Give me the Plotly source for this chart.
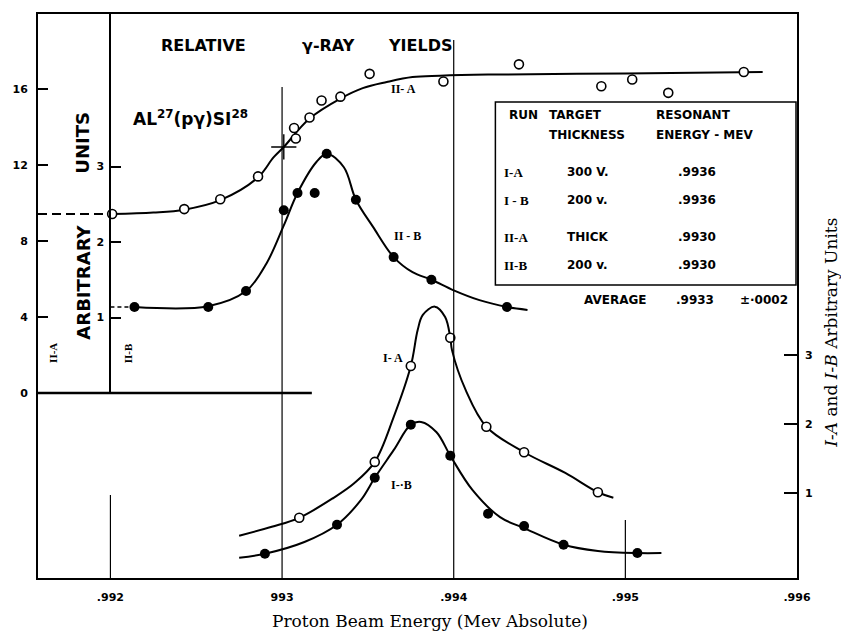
import plotly.graph_objects as go

# ---------------- data ----------------
# Run II-A (thick target), left axis 0..16
iia_curve_e = [.99201, .99225, .99243, .99264, .99286, .99295, .99301, .99316, .99334, .99347,
               .99361, .99376, .99392, .99420, .99500, .99580]
iia_curve_v = [9.42, 9.50, 9.65, 10.15, 11.35, 12.4, 12.95, 14.45, 15.5, 16.05,
               16.37, 16.63, 16.70, 16.76, 16.82, 16.90]
iia_pts_e = [.99201, .99243, .99264, .99286, .99308, .99307, .99316, .99323, .99334, .99351,
             .99394, .99438, .99486, .99504, .99525, .99569]
iia_pts_v = [9.42, 9.68, 10.2, 11.4, 13.4, 13.95, 14.5, 15.4, 15.6, 16.8,
             16.4, 17.3, 16.15, 16.5, 15.8, 16.9]
iia_mid_e = [.99301]
iia_mid_v = [12.95]
iia_base = 9.42

# Run II-B (200 V), inner axis 1..3
iib_curve_e = [.99214, .99257, .99279, .99291, .99301, .99309, .99320, .99326, .99336, .99343,
               .99353, .99365, .99376, .99387, .99400, .99415, .99431, .99443]
iib_curve_v = [1.14, 1.15, 1.35, 1.72, 2.22, 2.65, 3.06, 3.17, 2.99, 2.56,
               2.20, 1.80, 1.60, 1.50, 1.36, 1.23, 1.14, 1.10]
iib_pts_e = [.99214, .99257, .99279, .99301, .99309, .99319, .99326, .99343, .99365, .99387, .99431]
iib_pts_v = [1.14, 1.14, 1.35, 2.42, 2.65, 2.65, 3.17, 2.56, 1.80, 1.50, 1.14]
iib_base = 1.14

# Run I-A (300 V), right axis
ia_curve_e = [.99275, .99294, .99310, .99330, .99342, .99354, .99365, .99375, .99379, .99382,
              .99389, .99395, .99398, .99399, .99407, .99419, .99441, .99465, .99484, .99493]
ia_curve_v = [0.38, 0.51, 0.64, 0.93, 1.14, 1.45, 2.10, 2.84, 3.36, 3.58,
              3.70, 3.55, 3.25, 3.07, 2.49, 1.96, 1.59, 1.29, 1.01, 0.93]
ia_pts_e = [.99310, .99354, .99375, .99398, .99419, .99441, .99484]
ia_pts_v = [0.64, 1.45, 2.84, 3.25, 1.96, 1.59, 1.01]

# Run I-B (200 V), right axis
ib_curve_e = [.99275, .99290, .99313, .99332, .99346, .99354, .99365, .99375, .99381, .99390,
              .99398, .99411, .99427, .99441, .99464, .99484, .99507, .99521]
ib_curve_v = [0.06, 0.12, 0.29, 0.54, 0.90, 1.22, 1.62, 1.99, 2.03, 1.88,
              1.54, 1.04, 0.65, 0.49, 0.25, 0.16, 0.13, 0.13]
ib_pts_e = [.99290, .99332, .99354, .99375, .99398, .99420, .99441, .99464, .99507]
ib_pts_v = [0.12, 0.54, 1.22, 1.99, 1.54, 0.70, 0.52, 0.25, 0.13]

# axes
x_ticks = [.992, .993, .994, .995, .996]
x_ticktext = [".992", "993", ".994", ".995", ".996"]
iia_ticks = [0, 4, 8, 12, 16]
iib_ticks = [1, 2, 3]
i_ticks = [1, 2, 3]
x_grid_lines = [.992, .993, .994, .995]

# table text
table_head = [["RUN", "TARGET", "RESONANT"], ["", "THICKNESS", "ENERGY - MEV"]]
table_runs = ["I-A", "I - B", "II-A", "II-B"]
table_thick = ["300 V.", "200 v.", "THICK", "200 v."]
table_energy = [".9936", ".9936", ".9930", ".9930"]
table_avg = ["AVERAGE", ".9933", "±·0002"]

# ---------------- geometry helpers ----------------
W, H = 841, 632
L, R, T, B = 32, 797, 14, 578


def px(x):
    return (x - L) / (R - L)


def py(y):
    return (B - y) / (B - T)


X0, X1 = .991578, .996
BLACK = "black"
SANS = "DejaVu Sans"
SERIF = "Liberation Serif"
SERIF2 = "DejaVu Serif"

fig = go.Figure()

# II-A
fig.add_trace(go.Scatter(x=[X0, .992], y=[iia_base, iia_base], mode="lines",
                         line=dict(color=BLACK, width=2, dash="9px,5px"), yaxis="y"))
fig.add_trace(go.Scatter(x=iia_curve_e, y=iia_curve_v, mode="lines",
                         line=dict(color=BLACK, width=2, shape="spline", smoothing=1.0), yaxis="y"))
fig.add_trace(go.Scatter(x=iia_pts_e, y=iia_pts_v, mode="markers",
                         marker=dict(symbol="circle", size=9, color="white",
                                     line=dict(color=BLACK, width=1.6)), yaxis="y"))
fig.add_trace(go.Scatter(x=iia_mid_e, y=iia_mid_v, mode="markers",
                         marker=dict(symbol="cross-thin-open", size=18, color=BLACK,
                                     line=dict(color=BLACK, width=1.4)), yaxis="y"))

# II-B
fig.add_trace(go.Scatter(x=[.992, iib_pts_e[0]], y=[iib_base, iib_base], mode="lines",
                         line=dict(color=BLACK, width=1.6, dash="4px,3px"), yaxis="y3"))
fig.add_trace(go.Scatter(x=iib_curve_e, y=iib_curve_v, mode="lines",
                         line=dict(color=BLACK, width=2, shape="spline", smoothing=1.0), yaxis="y3"))
fig.add_trace(go.Scatter(x=iib_pts_e, y=iib_pts_v, mode="markers",
                         marker=dict(symbol="circle", size=10, color=BLACK), yaxis="y3"))

# I-A
fig.add_trace(go.Scatter(x=ia_curve_e, y=ia_curve_v, mode="lines",
                         line=dict(color=BLACK, width=2, shape="spline", smoothing=1.0), yaxis="y2"))
fig.add_trace(go.Scatter(x=ia_pts_e, y=ia_pts_v, mode="markers",
                         marker=dict(symbol="circle", size=9, color="white",
                                     line=dict(color=BLACK, width=1.6)), yaxis="y2"))
# I-B
fig.add_trace(go.Scatter(x=ib_curve_e, y=ib_curve_v, mode="lines",
                         line=dict(color=BLACK, width=2, shape="spline", smoothing=1.0), yaxis="y2"))
fig.add_trace(go.Scatter(x=ib_pts_e, y=ib_pts_v, mode="markers",
                         marker=dict(symbol="circle", size=10, color=BLACK), yaxis="y2"))

# ---------------- shapes ----------------
shapes = []
shapes.append(dict(type="line", xref="paper", yref="y", x0=0, x1=px(308), y0=0, y1=0,
                   line=dict(color=BLACK, width=2.5)))
vtops = {.992: 495, .993: 87, .994: 40, .995: 520}
for xv in x_grid_lines:
    shapes.append(dict(type="line", xref="x", yref="paper", x0=xv, x1=xv, y0=0, y1=py(vtops[xv]),
                       line=dict(color=BLACK, width=1.2)))
shapes.append(dict(type="rect", xref="paper", yref="paper", x0=px(493), x1=px(796),
                   y0=py(285), y1=py(102), line=dict(color=BLACK, width=1.5)))

# ---------------- annotations ----------------
ann = []


def text(x, y, s, size=12, family=SANS, weight="bold", anchor="center", angle=0):
    ann.append(dict(x=px(x), y=py(y), xref="paper", yref="paper", text=s, showarrow=False,
                    xanchor=anchor, yanchor="middle", textangle=angle,
                    font=dict(family=family, size=size, color=BLACK, weight=weight)))


text(199, 45, "RELATIVE", size=16)
text(325, 45, "γ-RAY", size=16)
text(417, 45, "YIELDS", size=16)
text(186, 118, "AL<sup>27</sup>(pγ)SI<sup>28</sup>", size=17)
text(400, 89, "II- A", size=12, family=SERIF)
text(404, 236, "II - B", size=12, family=SERIF)
text(390, 358, "I- A", size=12, family=SERIF)
text(398, 485, "I-·B", size=12, family=SERIF)
text(77, 282, "ARBITRARY", size=18, angle=-90)
text(77, 143, "UNITS", size=18, angle=-90)
text(47, 353, "II-A", size=11, family=SERIF, angle=-90)
text(123, 353, "II-B", size=11, family=SERIF, angle=-90)
# table
text(505, 115, table_head[0][0], size=12, anchor="left")
text(545, 115, table_head[0][1], size=12, anchor="left")
text(653, 115, table_head[0][2], size=12, anchor="left")
text(545, 135, table_head[1][1], size=12, anchor="left")
text(653, 135, table_head[1][2], size=12, anchor="left")
for yy, r, th, en in zip([172, 200, 237, 265], table_runs, table_thick, table_energy):
    text(500, yy, r, size=13, family=SERIF, anchor="left")
    text(563, yy, th, size=12, anchor="left")
    text(675, yy, en, size=12, anchor="left")
text(580, 300, table_avg[0], size=12, anchor="left")
text(673, 300, table_avg[1], size=12, anchor="left")
text(738, 300, table_avg[2], size=12, anchor="left")
# axis titles
text(427, 621, "Proton Beam Energy (Mev Absolute)", size=17, family=SERIF2, weight="normal")
text(831, 333, "<i>I-A</i> and <i>I-B</i> Arbitrary Units", size=17, family=SERIF2,
     weight="normal", angle=-90)

tickfont = dict(family=SANS, size=11, color=BLACK, weight="bold")

fig.update_layout(
    width=W, height=H, autosize=False,
    margin=dict(l=L, r=W - R, t=T, b=H - B, pad=0),
    paper_bgcolor="white", plot_bgcolor="rgba(0,0,0,0)",
    showlegend=False,
    xaxis=dict(range=[X0, X1], showline=True, mirror=True, linewidth=2, linecolor=BLACK,
               ticks="", tickvals=x_ticks, ticktext=x_ticktext, tickfont=tickfont,
               ticklabelstandoff=8,
               showgrid=False, zeroline=False, anchor="y"),
    yaxis=dict(range=[-9.74, 19.95], showline=True, mirror=True, linewidth=2, linecolor=BLACK,
               ticks="inside", ticklen=10, tickwidth=1.5, tickcolor=BLACK, ticklabelstandoff=6,
               tickvals=iia_ticks, tickfont=tickfont, showgrid=False, zeroline=False),
    yaxis2=dict(range=[-0.232, 7.94], overlaying="y", side="right", showline=False,
                ticks="inside", ticklen=13, tickwidth=1.5, tickcolor=BLACK, ticklabelstandoff=7,
                tickvals=i_ticks, tickfont=tickfont, showgrid=False, zeroline=False),
    yaxis3=dict(range=[0, 5.02], domain=[py(393), 1], anchor="free", position=px(105),
                side="left", showline=True, linewidth=2, linecolor=BLACK,
                ticks="inside", ticklen=10, tickwidth=1.5, tickcolor=BLACK, ticklabelstandoff=3,
                tickvals=iib_ticks, tickfont=tickfont, showgrid=False, zeroline=False),
    shapes=shapes,
    annotations=ann,
)

fig.write_html("out.html", config={"displayModeBar": False},
               post_script="document.body.style.margin='0';document.body.style.padding='0';")
